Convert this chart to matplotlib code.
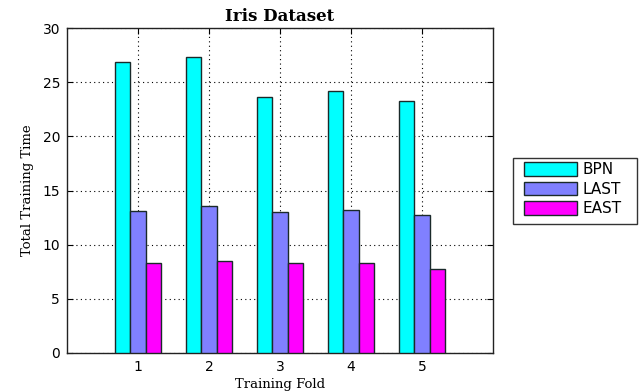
import matplotlib
matplotlib.use("Agg")
import matplotlib.pyplot as plt
from matplotlib.patches import Rectangle
import numpy as np

folds = [1, 2, 3, 4, 5]
series_names = ["BPN", "LAST", "EAST"]
bpn = [26.9, 27.3, 23.6, 24.2, 23.3]
last = [13.1, 13.6, 13.0, 13.2, 12.7]
east = [8.3, 8.5, 8.3, 8.3, 7.8]
colors = [(0, 1, 1), (0.5, 0.5, 1), (1, 0, 1)]
yticks = [0, 5, 10, 15, 20, 25, 30]

fig = plt.figure(figsize=(6.43, 3.92), dpi=100)
ax = fig.add_axes([0.1042, 0.0995, 0.6625, 0.829])

x = np.array(folds, dtype=float)
w = 0.22
handles = []
for i, (vals, c, name) in enumerate(zip([bpn, last, east], colors, series_names)):
    b = ax.bar(x + (i - 1) * w, vals, width=w, color=c, edgecolor="#1a2a2a",
               linewidth=1.0, zorder=3, label=name)
    handles.append(b)

ax.set_xlim(0, 6)
ax.set_ylim(0, 30)
ax.set_xticks(folds)
ax.set_yticks(yticks)
ax.tick_params(direction="in", top=True, right=True, length=4, width=0.8,
               labelsize=10, pad=5)
for lab in ax.get_xticklabels() + ax.get_yticklabels():
    lab.set_family("DejaVu Sans")
ax.grid(True, color="black", linestyle=(0, (1, 3)), linewidth=0.8, zorder=0)
ax.set_axisbelow(True)
for s in ax.spines.values():
    s.set_linewidth(1.0)
    s.set_color("#222222")

ax.set_title("Iris Dataset", family="DejaVu Serif", fontweight="bold",
             fontsize=12, pad=5)
ax.set_xlabel("Training Fold", family="DejaVu Serif", fontsize=9.5, labelpad=3)
ax.set_ylabel("Total Training Time", family="DejaVu Serif", fontsize=9.5, labelpad=6)

leg = fig.legend(handles=handles, labels=series_names, loc="upper left",
                 bbox_to_anchor=(524 / 643, 1 - 162 / 392),
                 prop={"family": "DejaVu Sans", "size": 11},
                 frameon=False,
                 handlelength=3.45, handleheight=1.0, labelspacing=0.3,
                 handletextpad=0.4, borderpad=0, borderaxespad=0)

frame = Rectangle((513 / 643, 1 - 224 / 392), (637 - 513) / 643, (224 - 158) / 392,
                  transform=fig.transFigure, facecolor="white",
                  edgecolor="#333333", linewidth=1.0, zorder=-1)
fig.patches.append(frame)

fig.savefig("out.png", dpi=100)
